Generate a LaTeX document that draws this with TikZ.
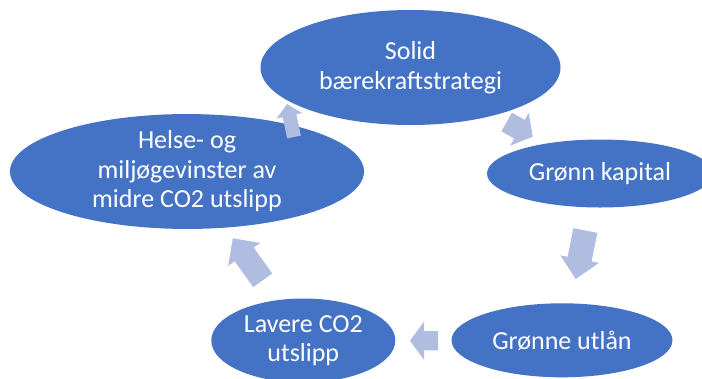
\documentclass[tikz,border=0pt]{standalone}
\usepackage{fontspec}
\setmainfont{Carlito}
\usetikzlibrary{shapes.geometric}
\definecolor{ellblue}{RGB}{68,114,196}
\definecolor{arrowc}{RGB}{176,189,224}
\tikzset{
  cyclenode/.style={ellipse, fill=ellblue, draw=none, inner sep=0pt,
    text=white, align=center, font=\fontsize{26}{29.5}\selectfont},
  arrowfill/.style={fill=arrowc}
}
% #1,#2 tail centre; #3 angle; #4 length; #5 shaft half width; #6 head half width; #7 head length
\newcommand\blockarrow[7]{%
  \fill[arrowfill, shift={(#1,#2)}, rotate=#3]
    (0,-#5) -- (#4-#7,-#5) -- (#4-#7,-#6) -- (#4,0) -- (#4-#7,#6) -- (#4-#7,#5) -- (0,#5) -- cycle;}
\begin{document}
\begin{tikzpicture}[x=1pt,y=-1pt]
  \useasboundingbox (0,0) rectangle (702,378);
  \clip (0,0) rectangle (702,378);
  \fill[white] (0,0) rectangle (702,378);

  \node[cyclenode, minimum width=300pt, minimum height=115pt] (solid) at (410.5,67.5) {Solid\\bærekraftstrategi};
  \node[cyclenode, minimum width=226pt, minimum height=68pt] (kapital) at (600,173.5) {Grønn kapital};
  \node[cyclenode, minimum width=221pt, minimum height=74pt] (utlan) at (562,340.3) {Grønne utlån};
  \node[cyclenode, minimum width=184pt, minimum height=84pt] (lavere) at (303.3,340.5) {Lavere CO2\\utslipp};
  \node[cyclenode, minimum width=354pt, minimum height=91pt] (helse) at (187,171.5) {Helse- og\\miljøgevinster av\\midre CO2 utslipp};

  \blockarrow{506.7}{122}{-29.5}{29.9}{10.7}{18.8}{15.2}
  \blockarrow{585.3}{230.5}{-101.2}{49.4}{12.2}{19.7}{20.2}
  \blockarrow{438}{340.7}{180}{28}{9.7}{19}{14}
  \blockarrow{262.7}{280.3}{125.5}{51.6}{11.7}{19.7}{19.8}
  \blockarrow{294}{137}{102}{33.7}{7}{13}{12}
\end{tikzpicture}
\end{document}
